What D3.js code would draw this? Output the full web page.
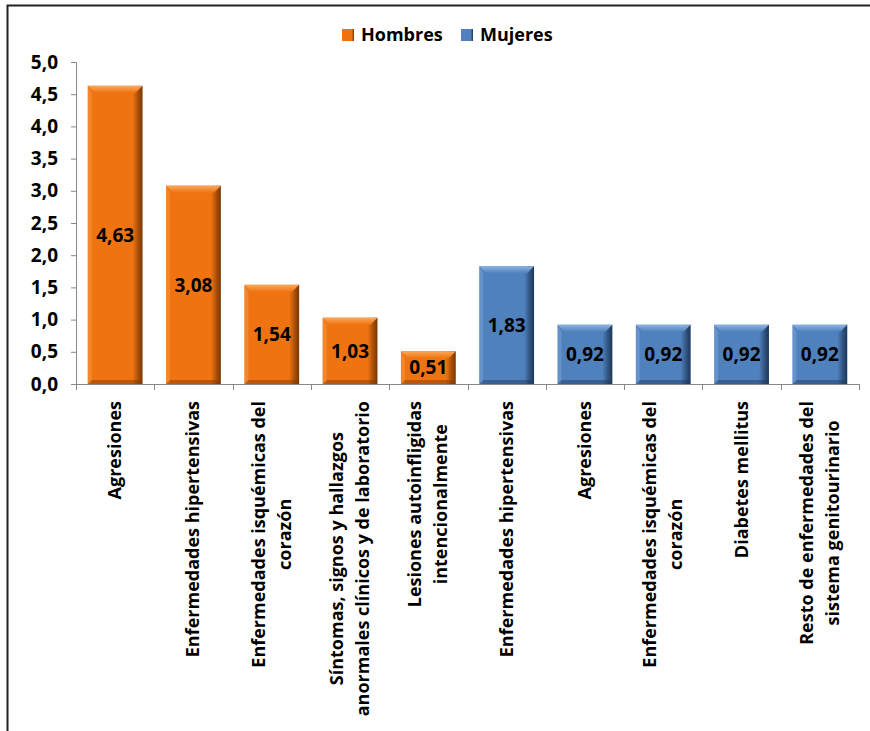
<!DOCTYPE html>
<html>
<head>
<meta charset="utf-8">
<script src="https://cdn.jsdelivr.net/npm/d3@7"></script>
<style>
  body { margin: 0; background: #fff; }
  svg text { font-family: "Open Sans", sans-serif; font-weight: 700; fill: #000; }
</style>
</head>
<body>
<div id="chart"></div>
<script>
// data
var categories = [
    ["Agresiones"],
    ["Enfermedades hipertensivas"],
    ["Enfermedades isquémicas del", "corazón"],
    ["Síntomas, signos y hallazgos", "anormales clínicos y de laboratorio"],
    ["Lesiones autoinfligidas", "intencionalmente"],
    ["Enfermedades hipertensivas"],
    ["Agresiones"],
    ["Enfermedades isquémicas del", "corazón"],
    ["Diabetes mellitus"],
    ["Resto de enfermedades del", "sistema genitourinario"]
];
var values = [4.63, 3.08, 1.54, 1.03, 0.51, 1.83, 0.92, 0.92, 0.92, 0.92];
var groups = ["Hombres", "Hombres", "Hombres", "Hombres", "Hombres",
              "Mujeres", "Mujeres", "Mujeres", "Mujeres", "Mujeres"];
var seriesNames = ["Hombres", "Mujeres"];
var yTicks = [0, 0.5, 1, 1.5, 2, 2.5, 3, 3.5, 4, 4.5, 5];

var width = 870, height = 731;
var margin = {top: 62, left: 76, right: 11, bottom: 347};

var svg = d3.select("#chart").append("svg")
    .attr("width", width)
    .attr("height", height);

// frame
svg.append("rect")
    .attr("x", 7.5).attr("y", 5.5)
    .attr("width", 900).attr("height", 900)
    .attr("fill", "none")
    .attr("stroke", "#222")
    .attr("stroke-width", 2);

var colors = {
    Hombres: {main: "#EF7411", light: "#FBA85A", dark: "#7A3604"},
    Mujeres: {main: "#4F81BD", light: "#8FB3E2", dark: "#1D3657"}
};

var defs = svg.append("defs");
seriesNames.forEach(function(s) {
    var c = colors[s];
    var g = defs.append("linearGradient").attr("id", "grad-" + s)
        .attr("x1", 0).attr("x2", 1).attr("y1", 0).attr("y2", 0);
    g.append("stop").attr("offset", "0%").attr("stop-color", c.main);
    g.append("stop").attr("offset", "82%").attr("stop-color", c.main);
    g.append("stop").attr("offset", "92%").attr("stop-color", d3.interpolateRgb(c.main, c.dark)(0.6));
    g.append("stop").attr("offset", "100%").attr("stop-color", c.dark);
    var t = defs.append("linearGradient").attr("id", "top-" + s)
        .attr("x1", 0).attr("x2", 0).attr("y1", 0).attr("y2", 1);
    t.append("stop").attr("offset", "0%").attr("stop-color", c.light);
    t.append("stop").attr("offset", "100%").attr("stop-color", c.main);
});

var plotW = width - margin.left - margin.right;
var plotH = height - margin.top - margin.bottom;

var x = d3.scaleBand()
    .domain(d3.range(values.length))
    .range([margin.left, margin.left + plotW])
    .paddingInner(0.3)
    .paddingOuter(0.15);

var y = d3.scaleLinear()
    .domain([0, 5])
    .range([margin.top + plotH, margin.top]);

// y axis
var yAxis = svg.append("g")
    .attr("transform", "translate(" + margin.left + ",0)")
    .call(d3.axisLeft(y).tickValues(yTicks).tickSize(5).tickPadding(13)
        .tickFormat(function(d) { return d3.format(".1f")(d).replace(".", ","); }));
yAxis.select(".domain").attr("stroke", "#888");
yAxis.selectAll(".tick line").attr("stroke", "#888");
yAxis.selectAll("text").style("font-size", "19px").attr("fill", "#000");

// x axis line + ticks at band edges
var xEdges = d3.range(values.length + 1).map(function(i) { return margin.left + i * plotW / values.length; });
svg.append("line")
    .attr("x1", margin.left).attr("x2", margin.left + plotW)
    .attr("y1", y(0) + 0.5).attr("y2", y(0) + 0.5)
    .attr("stroke", "#888");
svg.selectAll(".xtick").data(xEdges).enter().append("line")
    .attr("class", "xtick")
    .attr("x1", function(d) { return Math.round(d) + 0.5; })
    .attr("x2", function(d) { return Math.round(d) + 0.5; })
    .attr("y1", y(0)).attr("y2", y(0) + 6)
    .attr("stroke", "#888");

// bars
var bars = svg.selectAll(".bar").data(values).enter().append("g").attr("class", "bar");

bars.append("rect")
    .attr("x", function(d, i) { return x(i); })
    .attr("y", function(d) { return y(d); })
    .attr("width", x.bandwidth())
    .attr("height", function(d) { return y(0) - y(d); })
    .attr("fill", function(d, i) { return "url(#grad-" + groups[i] + ")"; });

// top bevel
bars.append("path")
    .attr("d", function(d, i) {
        var x0 = x(i), x1 = x(i) + x.bandwidth(), y0 = y(d), b = 7;
        return "M" + x0 + "," + y0 + "L" + x1 + "," + y0 + "L" + (x1 - b) + "," + (y0 + b) +
            "L" + (x0 + b) + "," + (y0 + b) + "Z";
    })
    .attr("fill", function(d, i) { return "url(#top-" + groups[i] + ")"; });

// left light edge
bars.append("path")
    .attr("d", function(d, i) {
        var x0 = x(i), y0 = y(d), y1 = y(0), b = 4;
        return "M" + x0 + "," + y0 + "L" + (x0 + b) + "," + (y0 + b + 3) + "L" + (x0 + b) + "," + y1 +
            "L" + x0 + "," + y1 + "Z";
    })
    .attr("fill", function(d, i) { return colors[groups[i]].light; })
    .attr("opacity", 0.35);

// bottom shade
bars.append("path")
    .attr("d", function(d, i) {
        var x0 = x(i), x1 = x(i) + x.bandwidth(), y1 = y(0), b = 4;
        return "M" + x0 + "," + y1 + "L" + x1 + "," + y1 + "L" + (x1 - b) + "," + (y1 - b) +
            "L" + (x0 + b) + "," + (y1 - b) + "Z";
    })
    .attr("fill", function(d, i) { return colors[groups[i]].dark; })
    .attr("opacity", 0.45);

// value labels
bars.append("text")
    .attr("x", function(d, i) { return x(i) + x.bandwidth() / 2; })
    .attr("y", function(d) { return (y(d) + y(0)) / 2; })
    .attr("dy", "0.36em")
    .attr("text-anchor", "middle")
    .style("font-size", "19px")
    .text(function(d) { return d3.format(".2f")(d).replace(".", ","); });

// category labels, rotated, centred block anchored at top
var lineGap = 26;
var labels = svg.selectAll(".cat").data(categories).enter().append("g")
    .attr("class", "cat")
    .attr("transform", function(d, i) {
        var cx = x(i) + x.bandwidth() / 2 + 6 - (d.length - 1) * lineGap / 2;
        return "translate(" + cx + "," + (y(0) + 17) + ") rotate(-90)";
    });

labels.each(function(d) {
    var g = d3.select(this);
    var texts = d.map(function(line, j) {
        return g.append("text")
            .attr("y", j * lineGap)
            .attr("text-anchor", "middle")
            .style("font-size", "18px")
            .text(line);
    });
    var maxLen = d3.max(texts, function(t) { return t.node().getComputedTextLength(); });
    texts.forEach(function(t) { t.attr("x", -maxLen / 2); });
});

// legend
var legend = svg.append("g").attr("transform", "translate(342,35)");
var legItems = [{name: "Hombres", x: 0}, {name: "Mujeres", x: 119}];
var li = legend.selectAll(".leg").data(legItems).enter().append("g")
    .attr("transform", function(d) { return "translate(" + d.x + ",0)"; });
li.append("rect")
    .attr("x", 0).attr("y", -6).attr("width", 12).attr("height", 12)
    .attr("fill", function(d) { return "url(#grad-" + d.name + ")"; });
li.append("text")
    .attr("x", 19).attr("dy", "0.36em")
    .style("font-size", "18px")
    .text(function(d) { return d.name; });
</script>
</body>
</html>
